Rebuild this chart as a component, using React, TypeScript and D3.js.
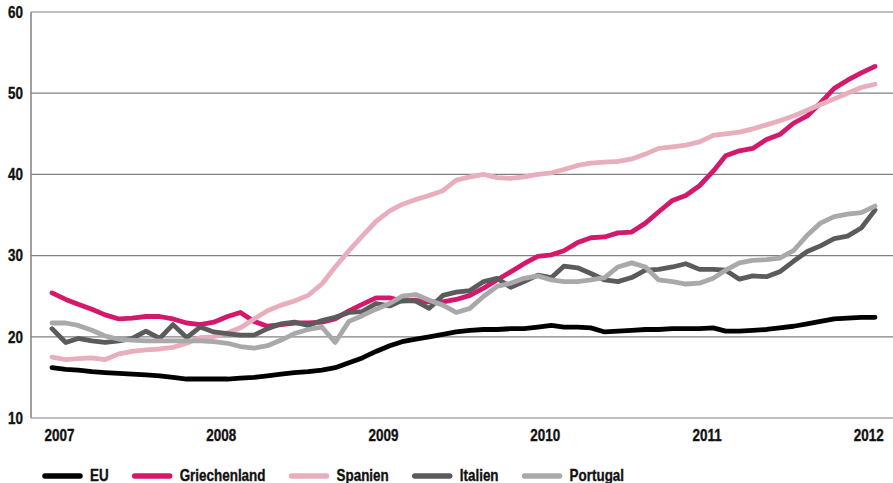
import * as d3 from 'd3';
import React, { useEffect, useRef } from 'react';

// monthly values, Jan 2007 .. Feb 2012
const startMonth = new Date(2007, 0, 1);
const endMonth = new Date(2012, 1, 1);

const euValues = [
  16.2, 16.0, 15.9, 15.7, 15.6, 15.5, 15.4, 15.3, 15.2, 15.0, 14.8, 14.8,
  14.8, 14.8, 14.9, 15.0, 15.2, 15.4, 15.6, 15.7, 15.9, 16.2, 16.8, 17.4,
  18.2, 18.9, 19.4, 19.7, 20.0, 20.3, 20.6, 20.8, 20.9, 20.9, 21.0, 21.0,
  21.2, 21.4, 21.2, 21.2, 21.1, 20.6, 20.7, 20.8, 20.9, 20.9, 21.0, 21.0,
  21.0, 21.1, 20.7, 20.7, 20.8, 20.9, 21.1, 21.3, 21.6, 21.9, 22.2, 22.3,
  22.4, 22.4
];

const greeceValues = [
  25.4, 24.6, 24.0, 23.4, 22.7, 22.2, 22.3, 22.5, 22.5, 22.2, 21.7, 21.5,
  21.8, 22.5, 23.0, 21.9, 21.3, 21.5, 21.7, 21.7, 21.8, 22.2, 23.2, 24.0,
  24.8, 24.8, 24.4, 24.5, 24.3, 24.3, 24.6, 25.1, 26.0, 27.0, 28.0, 29.0,
  29.9, 30.1, 30.6, 31.6, 32.2, 32.3, 32.8, 32.9, 34.0, 35.4, 36.8, 37.4,
  38.6, 40.4, 42.3, 42.9, 43.2, 44.3, 44.9, 46.3, 47.2, 48.8, 50.6, 51.6,
  52.5, 53.3
];

const spainValues = [
  17.5, 17.2, 17.3, 17.4, 17.2, 17.9, 18.2, 18.4, 18.5, 18.7, 19.2, 19.9,
  20.0, 20.5, 21.1, 22.2, 23.2, 23.9, 24.4, 25.1, 26.5, 28.6, 30.6, 32.4,
  34.2, 35.5, 36.3, 36.9, 37.4, 38.0, 39.3, 39.7, 40.0, 39.6, 39.5, 39.7,
  40.0, 40.2, 40.6, 41.1, 41.4, 41.5, 41.6, 41.9, 42.5, 43.2, 43.4, 43.6,
  44.0, 44.8, 45.0, 45.2, 45.6, 46.1, 46.6, 47.2, 47.9, 48.6, 49.3, 50.0,
  50.7, 51.1
];

const italyValues = [
  21.0, 19.3, 19.8, 19.5, 19.3, 19.5, 19.8, 20.7, 19.8, 21.5, 19.9, 21.2,
  20.6, 20.4, 20.2, 20.2, 21.0, 21.6, 21.8, 21.4, 22.0, 22.4, 23.0, 23.1,
  24.1, 23.8, 24.5, 24.4, 23.5, 25.1, 25.5, 25.7, 26.8, 27.2, 26.1, 26.8,
  27.6, 27.3, 28.7, 28.5, 27.8, 27.0, 26.8, 27.3, 28.2, 28.3, 28.6, 29.0,
  28.3, 28.3, 28.2, 27.1, 27.5, 27.4, 28.0, 29.3, 30.5, 31.2, 32.1, 32.4,
  33.4, 35.6
];

const portugalValues = [
  21.7, 21.7, 21.4, 20.8, 20.1, 19.7, 19.6, 19.5, 19.5, 19.5, 19.5, 19.5,
  19.4, 19.2, 18.8, 18.6, 18.9, 19.6, 20.4, 20.9, 21.2, 19.3, 21.9, 22.6,
  23.4, 24.1, 25.0, 25.2, 24.5, 23.9, 23.0, 23.5, 25.0, 26.2, 26.6, 27.2,
  27.5, 27.0, 26.8, 26.8, 27.0, 27.3, 28.6, 29.1, 28.6, 27.0, 26.8, 26.5,
  26.6, 27.2, 28.2, 29.1, 29.4, 29.5, 29.7, 30.6, 32.5, 34.0, 34.8, 35.1,
  35.3, 36.1
];

const seriesNames = ['EU', 'Griechenland', 'Spanien', 'Italien', 'Portugal'];
const seriesColors = ['#000000', '#d4186b', '#e8aebb', '#5b5b5d', '#a9a9ab'];
const seriesValues = [euValues, greeceValues, spainValues, italyValues, portugalValues];

const yTicks = [10, 20, 30, 40, 50, 60];
const yearLabels = [2007, 2008, 2009, 2010, 2011, 2012];

// condensed look: Liberation Sans bold squeezed horizontally
const FONT = "'Liberation Sans', Arial, sans-serif";
const SQUEEZE = 0.84;

const Chart: React.FC = () => {
  const svgRef = useRef<SVGSVGElement>(null);

  useEffect(() => {
    const width = 893;
    const height = 483;
    const svg = d3.select(svgRef.current)
      .attr('width', width)
      .attr('height', height)
      .html('');

    const months = d3.timeMonth.range(startMonth, d3.timeMonth.offset(endMonth, 1));

    const x = d3.scaleTime()
      .domain([startMonth, endMonth])
      .range([52, 875]);

    const y = d3.scaleLinear()
      .domain([10, 60])
      .range([418, 12]);

    const axisLeft = 31;

    const label = (g: d3.Selection<any, any, any, any>, tx: number, ty: number, anchor: string, txt: string) =>
      g.append('text')
        .attr('transform', `translate(${tx},${ty}) scale(${SQUEEZE},1)`)
        .attr('text-anchor', anchor)
        .style('font-family', FONT)
        .style('font-weight', 'bold')
        .style('font-size', '16px')
        .attr('fill', '#111')
        .attr('stroke', '#111')
        .attr('stroke-width', 0.35)
        .text(txt);

    // gridlines
    svg.append('g')
      .selectAll('line')
      .data(yTicks)
      .enter().append('line')
        .attr('x1', axisLeft)
        .attr('x2', width)
        .attr('y1', d => y(d))
        .attr('y2', d => y(d))
        .attr('stroke', '#808080')
        .attr('stroke-width', 1.2);

    // left axis line
    svg.append('line')
      .attr('x1', axisLeft)
      .attr('x2', axisLeft)
      .attr('y1', y(60))
      .attr('y2', y(10))
      .attr('stroke', '#808080')
      .attr('stroke-width', 1.5);

    // y labels
    const yg = svg.append('g');
    yTicks.forEach(t => label(yg, 23, y(t) + 5.8, 'end', String(t)));

    // x labels
    const xg = svg.append('g');
    yearLabels.forEach(yr => label(xg, x(new Date(yr, 0, 18)), 441, 'middle', String(yr)));

    const line = d3.line<number>()
      .x((_, i) => x(months[i]))
      .y(d => y(d));

    // draw lines
    seriesValues.forEach((vals, k) => {
      svg.append('path')
        .datum(vals)
        .attr('d', line)
        .attr('fill', 'none')
        .attr('stroke', seriesColors[k])
        .attr('stroke-width', 4.8)
        .attr('stroke-linejoin', 'round')
        .attr('stroke-linecap', 'round');
    });

    // legend
    const legend = svg.append('g');
    let cx = 45;
    seriesNames.forEach((name, k) => {
      legend.append('line')
        .attr('x1', cx)
        .attr('x2', cx + 35)
        .attr('y1', 476)
        .attr('y2', 476)
        .attr('stroke', seriesColors[k])
        .attr('stroke-width', 5.5)
        .attr('stroke-linecap', 'round');
      const t = label(legend, cx + 45, 481, 'start', name);
      const w = (t.node() as SVGTextElement).getComputedTextLength() * SQUEEZE;
      cx = cx + 45 + w + 26;
    });
  }, []);

  return <svg ref={svgRef} style={{ position: 'absolute', left: 0, top: 0 }} />;
};

export default function App() {
  return <Chart />;
}
